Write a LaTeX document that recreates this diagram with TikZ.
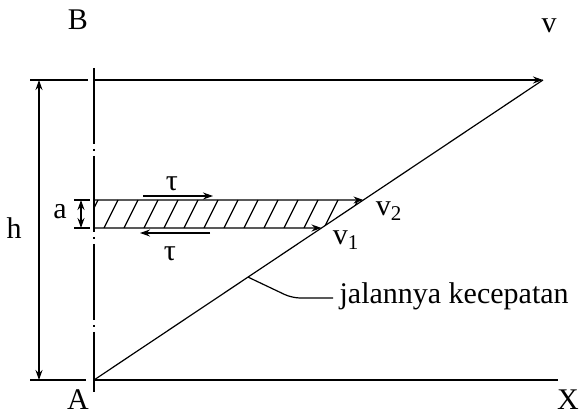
\documentclass[tikz,border=0pt]{standalone}
\usepackage{fontspec}
\setmainfont{Liberation Serif}
\usetikzlibrary{arrows.meta,calc}

\begin{document}
\begin{tikzpicture}[>=Stealth,x=0.5pt,y=-0.5pt,line width=0.6pt,font=\fontsize{15}{17}\selectfont,
  axis/.style={dash pattern=on 38pt off 2.5pt on 1.2pt off 2.3pt},
  vel/.style={-{Stealth[length=5pt,width=3.5pt]}},
  dim/.style={{Stealth[length=5pt,width=3.5pt]}-{Stealth[length=5pt,width=3.5pt]}}]
\useasboundingbox (0,0) rectangle (579,416);
% main points
\coordinate (A) at (94,380);
\coordinate (B) at (94,80);
\coordinate (V) at (543,80);
\coordinate (X) at (558,380);
\coordinate (v2) at ($(A)!0.6!(V)$);
\coordinate (v1) at ($(A)!0.5067!(V)$);
\coordinate (a2) at (94,200);
\coordinate (a1) at (94,228);
% hatched layer
\begin{scope}
\clip (a2)--(v2)--(v1)--(a1)--cycle;
\foreach \x in {84,104,...,364}
  \draw (\x,228)--++(14,-28);
\end{scope}
% axis and walls
\draw[axis] (94,68)--(94,392);
\draw (A)--(X);
\draw[vel] (B)--(V);
\draw (A)--(V);
\draw[vel] (a2)--(v2);
\draw[vel] (a1)--(v1);
% dimension h
\draw (30,80)--(88,80)
  (30,380)--(86,380);
\draw[dim] (39,80)--(39,380);
% dimension a
\draw (74,200)--(90,200)
  (74,228)--(90,228);
\draw[dim] (81,200)--(81,228);
% shear stresses
\draw[vel] (143,196)--(213,196);
\draw[vel] (210,233)--(140,233);
% leader
\coordinate (p) at ($(A)!0.343!(V)$);
\draw[rounded corners=4pt] (p)--(292,298)--(333,298);
% labels
\node (lB) at (78,20) {B};
\node (lV) at (549,26) {v};
\node (lA) at (78,400) {A};
\node (lX) at (568,400) {X};
\node (lh) at (14,228) {h};
\node (la) at (60,212) {a};
\node (lt1) at (172,184) {τ};
\node (lt2) at (170,254) {τ};
\node (lv2) at (389,211) {v\textsubscript{2}};
\node (lv1) at (346,240) {v\textsubscript{1}};
\node[anchor=west,inner sep=0pt] (lj) at (339,296) {jalannya kecepatan};
\end{tikzpicture}
\end{document}
